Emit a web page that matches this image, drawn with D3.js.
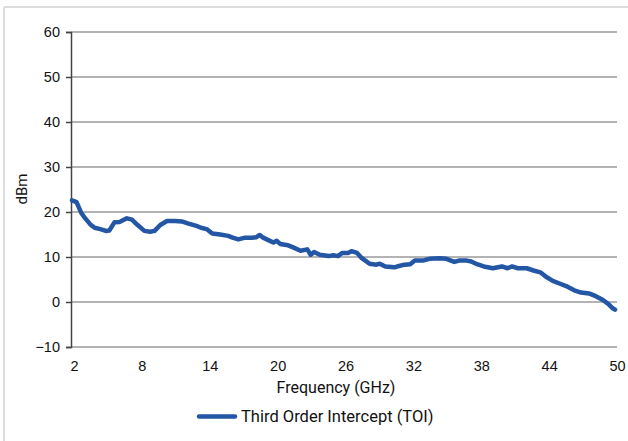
<!DOCTYPE html>
<html>
<head>
<meta charset="utf-8">
<script src="https://cdn.jsdelivr.net/npm/d3@7"></script>
<style>
  body { margin: 0; background: #fff; }
  svg { display: block; font-family: Roboto, "Liberation Sans", sans-serif; }
  .tick text { fill: #111; }
</style>
</head>
<body>
<div class="chart-container"></div>
<script>
var margin = {top: 32, right: 11, bottom: 94, left: 71};
var width = 628 - margin.left - margin.right;
var height = 441 - margin.top - margin.bottom;

// frequency (GHz)
var freq = [2, 2.4, 2.8, 3.1, 3.6, 4.0, 4.5, 5.0, 5.3, 5.75, 6.2, 6.85, 7.3, 7.8, 8.4, 8.9,
  9.3, 9.8, 10.4, 11.1, 11.7, 12.3, 13.0, 13.4, 13.9, 14.4, 15.1, 15.8, 16.2, 16.7, 17.3,
  17.9, 18.3, 18.6, 18.9, 19.4, 19.8, 20.1, 20.4, 21.1, 21.5, 22.2, 22.8, 23.1, 23.4, 23.9,
  24.7, 25.1, 25.5, 25.9, 26.4, 26.7, 27.2, 27.6, 28.3, 28.9, 29.2, 29.7, 30.5, 30.9, 31.4,
  31.9, 32.3, 33.0, 33.6, 34.5, 35.1, 35.8, 36.2, 36.9, 37.3, 37.8, 38.4, 39.2, 40.0, 40.5,
  40.9, 41.4, 42.2, 42.8, 43.4, 43.9, 44.5, 45.2, 45.8, 46.4, 47.0, 47.7, 48.3, 48.9, 49.4,
  49.8, 50];

// third order intercept (dBm)
var toi = [22.6, 22.2, 19.9, 18.8, 17.3, 16.5, 16.2, 15.8, 15.9, 17.7, 17.8, 18.6, 18.3, 17.1,
  15.8, 15.6, 15.8, 17.1, 18.0, 18.0, 17.9, 17.4, 16.9, 16.5, 16.2, 15.2, 15.0, 14.7, 14.3,
  13.9, 14.3, 14.3, 14.4, 14.9, 14.3, 13.7, 13.2, 13.6, 12.9, 12.6, 12.2, 11.4, 11.7, 10.5,
  11.1, 10.5, 10.2, 10.4, 10.2, 10.9, 10.9, 11.3, 10.9, 9.8, 8.5, 8.3, 8.5, 7.9, 7.7, 8.0,
  8.3, 8.4, 9.2, 9.2, 9.6, 9.7, 9.6, 8.9, 9.2, 9.2, 9.0, 8.4, 7.9, 7.5, 7.9, 7.5, 7.9, 7.5,
  7.5, 7.0, 6.6, 5.6, 4.7, 4.0, 3.4, 2.6, 2.1, 1.9, 1.3, 0.5, -0.4, -1.4, -1.7];

var xTicks = [2, 8, 14, 20, 26, 32, 38, 44, 50];
var yTicks = [-10, 0, 10, 20, 30, 40, 50, 60];
var seriesName = 'Third Order Intercept (TOI)';

var data = freq.map((f, i) => ({freq: f, value: toi[i]}));

var x = d3.scaleLinear()
  .domain([2, 50])
  .range([margin.left + 1, margin.left + width - 2]);

var y = d3.scaleLinear()
  .domain([-10, 60])
  .range([margin.top + height, margin.top]);

var svg = d3.select('.chart-container').append('svg')
  .attr('width', 628)
  .attr('height', 441);

// panel frame (top + left edges)
svg.append('line')
  .attr('x1', 4).attr('x2', 628).attr('y1', 7).attr('y2', 7)
  .attr('stroke', '#dcdcdc').attr('stroke-width', 2);
svg.append('line')
  .attr('x1', 4).attr('x2', 4).attr('y1', 7).attr('y2', 441)
  .attr('stroke', '#dcdcdc').attr('stroke-width', 2);

// gridlines
svg.append('g')
  .selectAll('line')
  .data(yTicks)
  .enter().append('line')
    .attr('x1', margin.left)
    .attr('x2', margin.left + width)
    .attr('y1', d => y(d))
    .attr('y2', d => y(d))
    .attr('stroke', '#b3b3b3')
    .attr('stroke-width', 2);

var yAxis = d3.axisLeft(y)
  .tickValues(yTicks)
  .tickSize(5)
  .tickPadding(6)
  .tickFormat(d => d < 0 ? '\u2212' + Math.abs(d) : d);

var gY = svg.append('g')
  .attr('transform', `translate(${margin.left},0)`)
  .call(yAxis);
gY.select('.domain').attr('stroke', '#444').attr('stroke-width', 1.5);
gY.selectAll('.tick line').attr('stroke', '#444').attr('stroke-width', 1.5);
gY.selectAll('.tick text').style('font-size', '14.5px').style('font-family', null);

var xAxis = d3.axisBottom(x)
  .tickValues(xTicks)
  .tickSize(0)
  .tickPadding(14);

var gX = svg.append('g')
  .attr('transform', `translate(2, ${margin.top + height})`)
  .call(xAxis);
gX.select('.domain').remove();
gX.selectAll('.tick text').style('font-size', '14.5px').style('font-family', null);

svg.append('text')
  .attr('x', 336)
  .attr('y', 393)
  .attr('text-anchor', 'middle')
  .style('font-size', '16px')
  .attr('fill', '#111')
  .text('Frequency (GHz)');

svg.append('text')
  .attr('transform', 'translate(27,189) rotate(-90)')
  .attr('text-anchor', 'middle')
  .style('font-size', '15px')
  .attr('fill', '#111')
  .text('dBm');

var line = d3.line()
  .x(d => x(d.freq))
  .y(d => y(d.value));

svg.append('path')
  .datum(data)
  .attr('d', line)
  .attr('fill', 'none')
  .attr('stroke', '#2357a6')
  .attr('stroke-width', 4.5)
  .attr('stroke-linejoin', 'round')
  .attr('stroke-linecap', 'round');

// legend
var legend = svg.append('g');
legend.append('line')
  .attr('x1', 199).attr('x2', 235).attr('y1', 416.5).attr('y2', 416.5)
  .attr('stroke', '#2357a6')
  .attr('stroke-width', 4.5)
  .attr('stroke-linecap', 'round');
legend.append('text')
  .attr('x', 241)
  .attr('y', 422)
  .style('font-size', '16.5px')
  .attr('fill', '#111')
  .text(seriesName);
</script>
</body>
</html>
